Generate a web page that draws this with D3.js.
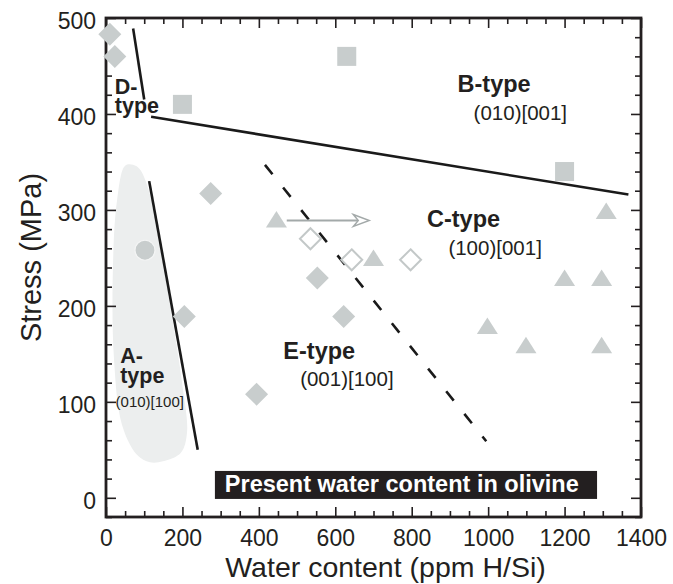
<!DOCTYPE html>
<html>
<head>
<meta charset="utf-8">
<script src="https://cdn.jsdelivr.net/npm/d3@7"></script>
<style>
  html, body { margin: 0; padding: 0; background: #fff; }
  svg { display: block; font-family: "Liberation Sans", Arial, Helvetica, sans-serif; }
</style>
</head>
<body>
<svg id="chart" width="673" height="584"></svg>
<script>
// Olivine fabric types vs. water content and stress

// Experimental points [water content (ppm H/Si), stress (MPa)]
const filledDiamonds = [[10, 483], [23, 460], [274, 317], [205, 189], [394, 108], [553, 229], [622, 189]];
const openDiamonds   = [[535, 270], [643, 248], [797, 248]];
const triangles      = [[446, 290], [700, 250], [1309, 299], [1200, 229], [1297, 229], [998, 179], [1099, 159], [1297, 159]];
const squares        = [[200, 410], [630, 460], [1200, 340]];
const circles        = [[102, 258]];

// Fabric boundaries
const boundaryD = [[71, 489], [100, 415]];
const boundaryB = [[118, 397], [1367, 316]];
const boundaryA = [[113, 330], [240, 50]];
const boundaryE = [[416, 347], [995, 59]];   // dashed
const shiftArrow = [[473, 289], [689, 289]];

// Outline of the A-type field
const aField = [[50, 346], [71, 347], [89, 342], [115, 316], [141, 263], [173, 188], [199, 120],
                [212, 68], [196, 47], [149, 38], [115, 37], [81, 45], [42, 76], [21, 144], [18, 237], [29, 310]];

// Axis ticks
const xMajorTicks = [0, 200, 400, 600, 800, 1000, 1200, 1400];
const yMajorTicks = [0, 100, 200, 300, 400, 500];

const ink = "#231f20";
const markFill = "#c8cdcd";

const svg = d3.select("#chart");
const x = d3.scaleLinear().domain([0, 1400]).range([106, 641]);
const y = d3.scaleLinear().domain([-20, 500]).range([517, 18]);

// A-type shaded field
svg.append("path")
  .datum(aField)
  .attr("d", d3.line().x(d => x(d[0])).y(d => y(d[1])).curve(d3.curveCatmullRomClosed.alpha(0.5)))
  .attr("fill", "#eceeee");

// Ticks (inward) on all four sides
const xMinor = d3.range(0, 1401, 50).filter(v => v % 200 !== 0);
const yMinor = d3.range(-20, 501, 20).filter(v => v % 100 !== 0);

function tickAxis(axisFn, scale, values, size, transform) {
  const g = svg.append("g").attr("transform", transform)
    .call(axisFn(scale).tickValues(values).tickSize(size).tickFormat(""));
  g.select(".domain").remove();
  g.selectAll("line").attr("stroke", ink).attr("stroke-width", 1.6);
  return g;
}
tickAxis(d3.axisBottom, x, xMinor, -6, `translate(0,${y(-20)})`);
tickAxis(d3.axisBottom, x, xMajorTicks, -10, `translate(0,${y(-20)})`);
tickAxis(d3.axisTop, x, xMinor, -6, `translate(0,${y(500)})`);
tickAxis(d3.axisTop, x, xMajorTicks, -10, `translate(0,${y(500)})`);
tickAxis(d3.axisLeft, y, yMinor, -6, `translate(${x(0)},0)`);
tickAxis(d3.axisLeft, y, yMajorTicks, -10, `translate(${x(0)},0)`);
tickAxis(d3.axisRight, y, yMinor, -6, `translate(${x(1400)},0)`);
tickAxis(d3.axisRight, y, yMajorTicks, -10, `translate(${x(1400)},0)`);

// Tick labels
const xLab = svg.append("g").attr("transform", `translate(0,${y(-20)})`)
  .call(d3.axisBottom(x).tickValues(xMajorTicks).tickSize(0).tickPadding(13).tickFormat(d3.format("d")));
xLab.select(".domain").remove();
xLab.selectAll("text").attr("font-size", 23).attr("fill", ink).attr("font-family", null);

const yLab = svg.append("g").attr("transform", `translate(${x(0)},0)`)
  .call(d3.axisLeft(y).tickValues(yMajorTicks).tickSize(0).tickPadding(10).tickFormat(d3.format("d")));
yLab.select(".domain").remove();
yLab.selectAll("text").attr("font-size", 23).attr("fill", ink).attr("font-family", null).attr("dy", "0.45em");

// Frame
svg.append("rect")
  .attr("x", x(0)).attr("y", y(500))
  .attr("width", x(1400) - x(0)).attr("height", y(-20) - y(500))
  .attr("fill", "none").attr("stroke", ink).attr("stroke-width", 2.8);

// Axis titles
svg.append("text")
  .attr("x", (x(0) + x(1400)) / 2 + 12).attr("y", 577)
  .attr("text-anchor", "middle").attr("font-size", 28.5).attr("fill", ink)
  .text("Water content (ppm H/Si)");
svg.append("text")
  .attr("transform", `translate(41,${(y(500) + y(-20)) / 2 - 10}) rotate(-90)`)
  .attr("text-anchor", "middle").attr("font-size", 29).attr("fill", ink)
  .text("Stress (MPa)");

// Boundaries
const line = d3.line().x(d => x(d[0])).y(d => y(d[1]));
[boundaryD, boundaryB, boundaryA].forEach(b => {
  svg.append("path").attr("d", line(b)).attr("fill", "none")
    .attr("stroke", "#1a1a1a").attr("stroke-width", 2.6);
});
svg.append("path").attr("d", line(boundaryE)).attr("fill", "none")
  .attr("stroke", "#1a1a1a").attr("stroke-width", 2.6).attr("stroke-dasharray", "12,17");

// Markers
const diamondPath = "M0,-11.5L11.5,0L0,11.5L-11.5,0Z";
svg.append("g").selectAll("path").data(filledDiamonds).join("path")
  .attr("transform", d => `translate(${x(d[0])},${y(d[1])})`)
  .attr("d", diamondPath).attr("fill", markFill);
svg.append("g").selectAll("path").data(openDiamonds).join("path")
  .attr("transform", d => `translate(${x(d[0])},${y(d[1])})`)
  .attr("d", "M0,-10.5L10.5,0L0,10.5L-10.5,0Z")
  .attr("fill", "#fff").attr("stroke", "#c3c8c8").attr("stroke-width", 2);
svg.append("g").selectAll("path").data(triangles).join("path")
  .attr("transform", d => `translate(${x(d[0])},${y(d[1])})`)
  .attr("d", "M0,-8.5L10.5,8L-10.5,8Z").attr("fill", markFill);
svg.append("g").selectAll("rect").data(squares).join("rect")
  .attr("x", d => x(d[0]) - 9.5).attr("y", d => y(d[1]) - 9.5)
  .attr("width", 19).attr("height", 19).attr("fill", markFill);
svg.append("g").selectAll("circle").data(circles).join("circle")
  .attr("cx", d => x(d[0])).attr("cy", d => y(d[1])).attr("r", 10)
  .attr("fill", markFill).attr("stroke", "#f4f5f5").attr("stroke-width", 1.2);

// Arrow showing the shift of the boundary
const ax0 = x(shiftArrow[0][0]), ax1 = x(shiftArrow[1][0]), ay = y(shiftArrow[0][1]);
svg.append("line").attr("x1", ax0).attr("x2", ax1 - 10).attr("y1", ay).attr("y2", ay)
  .attr("stroke", "#a3a9a9").attr("stroke-width", 1.8);
svg.append("path")
  .attr("d", `M${ax1 - 16},${ay - 6}L${ax1},${ay}L${ax1 - 16},${ay + 6}L${ax1 - 11},${ay}Z`)
  .attr("fill", "#fff").attr("stroke", "#a3a9a9").attr("stroke-width", 1.4).attr("stroke-linejoin", "miter");

// Fabric-type labels: [lines, water, stress, bold, size]; stacked lines share one text element
const labels = [
  [["D-", "type"], 23, 421, true, 21.5],
  [["B-type"], 920, 423, true, 23.5],
  [["(010)[001]"], 962, 394, false, 20.5],
  [["C-type"], 840, 282, true, 23.5],
  [["(100)[001]"], 896, 253, false, 20.5],
  [["E-type"], 464, 145, true, 23.5],
  [["(001)[100]"], 508, 117, false, 20.5],
  [["A-", "type"], 37, 140, true, 21.5],
  [["(010)[100]"], 25, 95, false, 15]
];
const lab = svg.append("g").selectAll("text").data(labels).join("text")
  .attr("x", d => x(d[1])).attr("y", d => y(d[2]))
  .attr("font-weight", d => d[3] ? "bold" : "normal")
  .attr("font-size", d => d[4]).attr("fill", ink);
lab.selectAll("tspan").data(d => d[0].map((t, i) => ({ t, i, x: x(d[1]) }))).join("tspan")
  .attr("x", d => d.x).attr("dy", d => d.i === 0 ? 0 : 19.5)
  .text(d => d.t);

// Caption box
const cap = svg.append("g");
cap.append("rect").attr("x", x(285)).attr("y", y(28)).attr("width", x(1285) - x(285)).attr("height", 28)
  .attr("fill", ink);
cap.append("text").attr("x", x(311)).attr("y", y(6)).attr("font-weight", "bold").attr("font-size", 23.5)
  .attr("fill", "#fff").text("Present water content in olivine");
</script>
</body>
</html>
